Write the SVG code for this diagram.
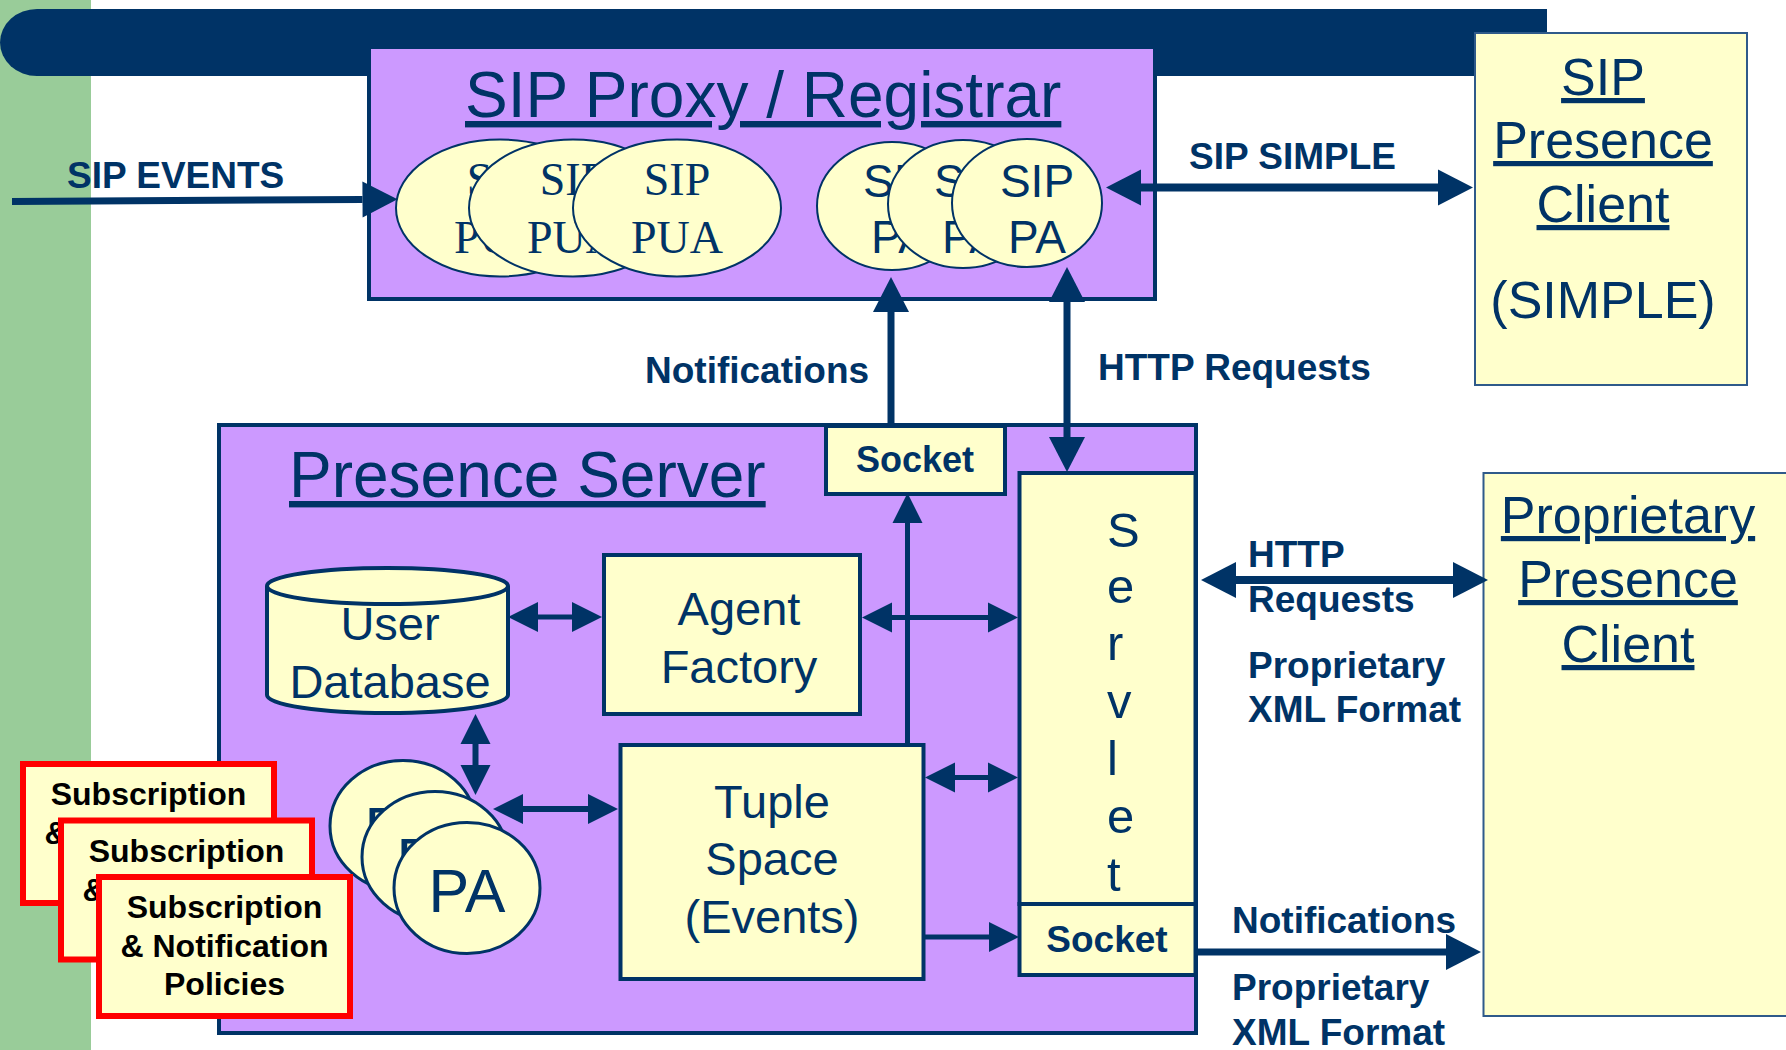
<svg xmlns="http://www.w3.org/2000/svg" width="1786" height="1050" viewBox="0 0 1786 1050">
  <style>
    .box { fill: #CC99FF; stroke: #003366; stroke-width: 4; }
    .cell { fill: #FFFFCC; stroke: #003366; stroke-width: 4; }
    .client { fill: #FFFFCC; stroke: #2F5A8A; stroke-width: 2; }
    .agent { fill: #FFFFCC; stroke: #003366; stroke-width: 2; }
    .pa { fill: #FFFFCC; stroke: #003366; stroke-width: 3; }
    .policy { fill: #FFFFCC; stroke: #FF0000; stroke-width: 6; }
    .title { font-family: "Liberation Sans", Arial, sans-serif; font-size: 64px; fill: #003366; text-decoration: underline; text-decoration-skip-ink: none; }
    .ctitle { font-family: "Liberation Sans", Arial, sans-serif; font-size: 52px; fill: #003366; text-anchor: middle; }
    .u { text-decoration: underline; text-decoration-skip-ink: none; }
    .big { font-family: "Liberation Sans", Arial, sans-serif; font-size: 47px; fill: #003366; text-anchor: middle; }
    .serif { font-family: "Liberation Serif", "Times New Roman", serif; font-size: 46px; fill: #003366; text-anchor: middle; }
    .sans46 { font-family: "Liberation Sans", Arial, sans-serif; font-size: 46px; fill: #003366; text-anchor: middle; }
    .pa-text { font-family: "Liberation Sans", Arial, sans-serif; font-size: 61px; fill: #003366; text-anchor: middle; }
    .lbl { font-family: "Liberation Sans", Arial, sans-serif; font-size: 37px; font-weight: bold; fill: #003366; }
    .sock { font-family: "Liberation Sans", Arial, sans-serif; font-size: 36px; font-weight: bold; fill: #003366; text-anchor: middle; }
    .pol { font-family: "Liberation Sans", Arial, sans-serif; font-size: 32px; font-weight: bold; fill: #000000; text-anchor: middle; }
    .wire { stroke: #003366; fill: none; }
    .w7 { stroke-width: 7; marker-end: url(#head-big); }
    .w5 { stroke-width: 5; }
  </style>
  <defs>
    <marker id="head-big" markerUnits="userSpaceOnUse" markerWidth="40" markerHeight="40" refX="0" refY="0" orient="auto-start-reverse" overflow="visible">
      <path d="M0,-18 L35,0 L0,18 Z" fill="#003366"/>
    </marker>
    <marker id="head-small" markerUnits="userSpaceOnUse" markerWidth="32" markerHeight="32" refX="0" refY="0" orient="auto-start-reverse" overflow="visible">
      <path d="M0,-15 L30,0 L0,15 Z" fill="#003366"/>
    </marker>
  </defs>

  <!-- page background and slide decoration -->
  <rect x="0" y="0" width="1786" height="1050" fill="#FFFFFF"/>
  <rect x="0" y="0" width="91" height="1050" fill="#99CC99"/>
  <path d="M37,9 H1547 V76 H37 A37,33.5 0 0 1 37,9 Z" fill="#003366"/>

  <!-- SIP Proxy / Registrar -->
  <g id="sip-proxy">
    <rect class="box" x="369" y="47" width="786" height="252"/>
    <text class="title" x="465" y="117">SIP Proxy / Registrar</text>
  </g>

  <g id="sip-pua-1">
    <ellipse class="agent" cx="500" cy="208" rx="104" ry="68.5"/>
    <text class="serif" x="500" y="195">SIP</text>
    <text class="serif" x="500" y="253">PUA</text>
  </g>
  <g id="sip-pua-2">
    <ellipse class="agent" cx="573" cy="208" rx="104" ry="68.5"/>
    <text class="serif" x="573" y="195">SIP</text>
    <text class="serif" x="573" y="253">PUA</text>
  </g>
  <g id="sip-pua-3">
    <ellipse class="agent" cx="677" cy="208" rx="104" ry="68.5"/>
    <text class="serif" x="677" y="195">SIP</text>
    <text class="serif" x="677" y="253">PUA</text>
  </g>

  <g id="sip-pa-1">
    <ellipse class="agent" cx="892" cy="206" rx="75" ry="64"/>
    <text class="sans46" x="900" y="197">SIP</text>
    <text class="sans46" x="900" y="253">PA</text>
  </g>
  <g id="sip-pa-2">
    <ellipse class="agent" cx="963" cy="204" rx="75" ry="64"/>
    <text class="sans46" x="971" y="197">SIP</text>
    <text class="sans46" x="971" y="253">PA</text>
  </g>
  <g id="sip-pa-3">
    <ellipse class="agent" cx="1027" cy="203" rx="75" ry="64"/>
    <text class="sans46" x="1037" y="197">SIP</text>
    <text class="sans46" x="1037" y="253">PA</text>
  </g>

  <!-- SIP Presence Client -->
  <g id="sip-client">
    <rect class="client" x="1475" y="33" width="272" height="352"/>
    <text class="ctitle u" x="1603" y="95">SIP</text>
    <text class="ctitle u" x="1603" y="158">Presence</text>
    <text class="ctitle u" x="1603" y="222">Client</text>
    <text class="ctitle" x="1603" y="318">(SIMPLE)</text>
  </g>

  <!-- Presence Server -->
  <g id="presence-server">
    <rect class="box" x="219" y="425" width="977" height="608"/>
    <text class="title" x="289" y="497">Presence Server</text>
  </g>

  <g id="socket-top">
    <rect class="cell" x="826" y="426" width="179" height="68"/>
    <text class="sock" x="915" y="472">Socket</text>
  </g>

  <g id="servlet">
    <rect class="cell" x="1019.5" y="473" width="176" height="431"/>
    <text font-family="Liberation Sans, Arial, sans-serif" font-size="49" fill="#003366">
      <tspan x="1107" y="547">S</tspan>
      <tspan x="1107" y="603">e</tspan>
      <tspan x="1107" y="660">r</tspan>
      <tspan x="1107" y="718">v</tspan>
      <tspan x="1107" y="775">l</tspan>
      <tspan x="1107" y="833">e</tspan>
      <tspan x="1107" y="891">t</tspan>
    </text>
  </g>

  <g id="socket-bottom">
    <rect class="cell" x="1019.5" y="904" width="176" height="71"/>
    <text class="sock" x="1107" y="952" style="font-size:37px">Socket</text>
  </g>

  <g id="user-database">
    <path class="cell" d="M267,586 V695 A120.5,18 0 0 0 508,695 V586"/>
    <ellipse class="cell" cx="387.5" cy="586" rx="120.5" ry="18"/>
    <text class="big" x="390" y="640">User</text>
    <text class="big" x="390" y="698">Database</text>
  </g>

  <g id="agent-factory">
    <rect class="cell" x="604" y="555" width="256" height="159"/>
    <text class="big" x="739" y="625">Agent</text>
    <text class="big" x="739" y="683">Factory</text>
  </g>

  <g id="tuple-space">
    <rect class="cell" x="620.5" y="745" width="303" height="234"/>
    <text class="big" x="772" y="818">Tuple</text>
    <text class="big" x="772" y="875">Space</text>
    <text class="big" x="772" y="933">(Events)</text>
  </g>

  <g id="pa-1">
    <ellipse class="pa" cx="403" cy="826" rx="73" ry="65.5"/>
    <text class="pa-text" x="403" y="850">PA</text>
  </g>
  <g id="pa-2">
    <ellipse class="pa" cx="435" cy="857" rx="73" ry="65.5"/>
    <text class="pa-text" x="435" y="881">PA</text>
  </g>
  <g id="pa-3">
    <ellipse class="pa" cx="467" cy="888" rx="73" ry="65.5"/>
    <text class="pa-text" x="467" y="912">PA</text>
  </g>

  <!-- policy documents -->
  <g id="policy-1">
    <rect class="policy" x="23" y="764" width="251" height="139"/>
    <text class="pol" x="148.5" y="805">Subscription</text>
    <text class="pol" x="148.5" y="844">&amp; Notification</text>
    <text class="pol" x="148.5" y="882">Policies</text>
  </g>
  <g id="policy-2">
    <rect class="policy" x="61" y="820.5" width="251" height="139"/>
    <text class="pol" x="186.5" y="861.5">Subscription</text>
    <text class="pol" x="186.5" y="900.5">&amp; Notification</text>
    <text class="pol" x="186.5" y="938.5">Policies</text>
  </g>
  <g id="policy-3">
    <rect class="policy" x="99" y="877" width="251" height="139"/>
    <text class="pol" x="224.5" y="918">Subscription</text>
    <text class="pol" x="224.5" y="957">&amp; Notification</text>
    <text class="pol" x="224.5" y="995">Policies</text>
  </g>

  <!-- Proprietary Presence Client -->
  <g id="proprietary-client">
    <rect class="client" x="1483.5" y="473" width="320" height="543"/>
    <text class="ctitle u" x="1628" y="533">Proprietary</text>
    <text class="ctitle u" x="1628" y="597">Presence</text>
    <text class="ctitle u" x="1628" y="662">Client</text>
  </g>

  <!-- connectors and their labels -->
  <g id="connectors">
    <line class="wire w7" x1="12" y1="201.5" x2="362.5" y2="199.5"/>
    <line class="wire" stroke-width="8" x1="1141" y1="187.5" x2="1438" y2="187.5" marker-start="url(#head-big)" marker-end="url(#head-big)"/>
    <line class="wire w7" x1="891" y1="426" x2="891" y2="312"/>
    <line class="wire" stroke-width="7" x1="1067" y1="302" x2="1067" y2="437" marker-start="url(#head-big)" marker-end="url(#head-big)"/>
    <line class="wire" stroke-width="8" x1="1236" y1="580" x2="1453" y2="580" marker-start="url(#head-big)" marker-end="url(#head-big)"/>
    <line class="wire w7" x1="1197" y1="952" x2="1446" y2="952"/>

    <line class="wire w5" x1="538" y1="617" x2="572" y2="617" marker-start="url(#head-small)" marker-end="url(#head-small)"/>
    <line class="wire w5" x1="892" y1="617.5" x2="988" y2="617.5" marker-start="url(#head-small)" marker-end="url(#head-small)"/>
    <line class="wire w5" x1="955" y1="777.5" x2="988" y2="777.5" marker-start="url(#head-small)" marker-end="url(#head-small)"/>
    <line class="wire w5" x1="925" y1="937" x2="989" y2="937" marker-end="url(#head-small)"/>
    <line class="wire w5" x1="907.5" y1="745" x2="907.5" y2="523" marker-end="url(#head-small)"/>
    <line class="wire" stroke-width="6" x1="475.5" y1="744" x2="475.5" y2="765" marker-start="url(#head-small)" marker-end="url(#head-small)"/>
    <line class="wire" stroke-width="6" x1="523" y1="809" x2="588" y2="809" marker-start="url(#head-small)" marker-end="url(#head-small)"/>

    <text class="lbl" x="67" y="188">SIP EVENTS</text>
    <text class="lbl" x="1189" y="169">SIP SIMPLE</text>
    <text class="lbl" x="645" y="383">Notifications</text>
    <text class="lbl" x="1098" y="380">HTTP Requests</text>
    <text class="lbl" x="1248" y="567">HTTP</text>
    <text class="lbl" x="1248" y="612">Requests</text>
    <text class="lbl" x="1248" y="678">Proprietary</text>
    <text class="lbl" x="1248" y="722">XML Format</text>
    <text class="lbl" x="1232" y="933">Notifications</text>
    <text class="lbl" x="1232" y="1000">Proprietary</text>
    <text class="lbl" x="1232" y="1045">XML Format</text>
  </g>
</svg>
